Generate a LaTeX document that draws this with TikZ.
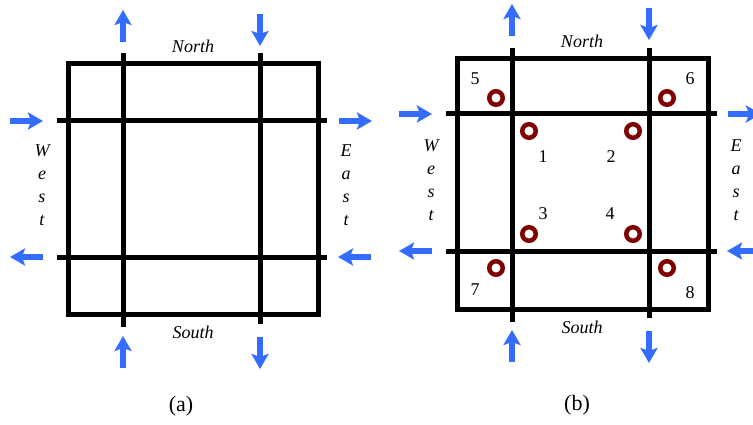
\documentclass[tikz,border=0pt]{standalone}
\usepackage{fontspec}
\setmainfont{Liberation Serif}
\usetikzlibrary{arrows.meta}
\definecolor{arrowblue}{RGB}{51,108,255}
\definecolor{ringred}{RGB}{128,0,0}
\tikzset{
  gridline/.style={line width=5pt, black},
  flow/.style={line width=5.5pt, arrowblue, -{Stealth[length=15pt,width=17pt,inset=3pt]}},
  ring/.style={circle, draw=ringred, line width=4.5pt, minimum size=13.5pt, inner sep=0pt, fill=white},
  lbl/.style={font=\fontsize{18}{20}\selectfont\itshape, inner sep=0pt},
  num/.style={font=\fontsize{18}{20}\selectfont, inner sep=0pt},
  captext/.style={font=\fontsize{22}{24}\selectfont, inner sep=0pt},
  vert/.style={font=\fontsize{18}{23}\selectfont\itshape, align=center, inner sep=0pt}
}
\begin{document}
\begin{tikzpicture}[x=1pt,y=-1pt]
\useasboundingbox (0,0) rectangle (753,425);
% ---------- panel (a) ----------
\begin{scope}
  \coordinate (a-tl) at (68,64);
  \coordinate (a-br) at (318,314);
  \draw[gridline] (a-tl) rectangle (a-br);
  \coordinate (a-v1t) at (123,53); \coordinate (a-v1b) at (123,327);
  \coordinate (a-v2t) at (260,53); \coordinate (a-v2b) at (260,324);
  \coordinate (a-h1l) at (57,121); \coordinate (a-h1r) at (327,121);
  \coordinate (a-h2l) at (57,257); \coordinate (a-h2r) at (327,257);
  \draw[gridline] (a-v1t) -- (a-v1b);
  \draw[gridline] (a-v2t) -- (a-v2b);
  \draw[gridline] (a-h1l) -- (a-h1r);
  \draw[gridline] (a-h2l) -- (a-h2r);
  % arrows
  \coordinate (a-n1s) at (123,42); \coordinate (a-n1e) at (123,10);
  \coordinate (a-n2s) at (260,14); \coordinate (a-n2e) at (260,46);
  \coordinate (a-s1s) at (123,368); \coordinate (a-s1e) at (123,336);
  \coordinate (a-s2s) at (260,337); \coordinate (a-s2e) at (260,369);
  \coordinate (a-w1s) at (10,121); \coordinate (a-w1e) at (43,121);
  \coordinate (a-w2s) at (43,257); \coordinate (a-w2e) at (10,257);
  \coordinate (a-e1s) at (339,121); \coordinate (a-e1e) at (372,121);
  \coordinate (a-e2s) at (371,257); \coordinate (a-e2e) at (338,257);
  \draw[flow] (a-n1s) -- (a-n1e);
  \draw[flow] (a-n2s) -- (a-n2e);
  \draw[flow] (a-s1s) -- (a-s1e);
  \draw[flow] (a-s2s) -- (a-s2e);
  \draw[flow] (a-w1s) -- (a-w1e);
  \draw[flow] (a-w2s) -- (a-w2e);
  \draw[flow] (a-e1s) -- (a-e1e);
  \draw[flow] (a-e2s) -- (a-e2e);
  \node[lbl] (a-north) at (193,46) {North};
  \node[lbl] (a-south) at (193,332) {South};
  \node[vert] (a-west) at (42,185) {W\\e\\s\\t};
  \node[vert] (a-east) at (346,185) {E\\a\\s\\t};
  \node[captext] (a-cap) at (181,406) {(a)};
\end{scope}
% ---------- panel (b) ----------
\begin{scope}
  \coordinate (b-tl) at (457,59);
  \coordinate (b-br) at (708,309);
  \draw[gridline] (b-tl) rectangle (b-br);
  \coordinate (b-v1t) at (512,48); \coordinate (b-v1b) at (512,322);
  \coordinate (b-v2t) at (649,48); \coordinate (b-v2b) at (649,318);
  \coordinate (b-h1l) at (446,114); \coordinate (b-h1r) at (717,114);
  \coordinate (b-h2l) at (446,251); \coordinate (b-h2r) at (717,251);
  \draw[gridline] (b-v1t) -- (b-v1b);
  \draw[gridline] (b-v2t) -- (b-v2b);
  \draw[gridline] (b-h1l) -- (b-h1r);
  \draw[gridline] (b-h2l) -- (b-h2r);
  % arrows
  \coordinate (b-n1s) at (512,36); \coordinate (b-n1e) at (512,4);
  \coordinate (b-n2s) at (649,8); \coordinate (b-n2e) at (649,40);
  \coordinate (b-s1s) at (512,362); \coordinate (b-s1e) at (512,330);
  \coordinate (b-s2s) at (649,331); \coordinate (b-s2e) at (649,363);
  \coordinate (b-w1s) at (399,114); \coordinate (b-w1e) at (432,114);
  \coordinate (b-w2s) at (432,251); \coordinate (b-w2e) at (399,251);
  \coordinate (b-e1s) at (728,114); \coordinate (b-e1e) at (761,114);
  \coordinate (b-e2s) at (760,251); \coordinate (b-e2e) at (727,251);
  \draw[flow] (b-n1s) -- (b-n1e);
  \draw[flow] (b-n2s) -- (b-n2e);
  \draw[flow] (b-s1s) -- (b-s1e);
  \draw[flow] (b-s2s) -- (b-s2e);
  \draw[flow] (b-w1s) -- (b-w1e);
  \draw[flow] (b-w2s) -- (b-w2e);
  \draw[flow] (b-e1s) -- (b-e1e);
  \draw[flow] (b-e2s) -- (b-e2e);
  \node[lbl] (b-north) at (582,41) {North};
  \node[lbl] (b-south) at (582,327) {South};
  \node[vert] (b-west) at (431,180) {W\\e\\s\\t};
  \node[vert] (b-east) at (736,180) {E\\a\\s\\t};
  \node[captext] (b-cap) at (577,405) {(b)};
  % rings
  \node[ring] (r5) at (496,98) {};
  \node[ring] (r6) at (667,98) {};
  \node[ring] (r1) at (529,131) {};
  \node[ring] (r2) at (633,131) {};
  \node[ring] (r3) at (529,234) {};
  \node[ring] (r4) at (633,234) {};
  \node[ring] (r7) at (496,268) {};
  \node[ring] (r8) at (667,268) {};
  % numbers
  \node[num] (n5) at (475,79) {5};
  \node[num] (n6) at (690,79) {6};
  \node[num] (n1) at (543,157) {1};
  \node[num] (n2) at (611,157) {2};
  \node[num] (n3) at (543,214) {3};
  \node[num] (n4) at (610,214) {4};
  \node[num] (n7) at (475,290) {7};
  \node[num] (n8) at (690,293) {8};
\end{scope}
\end{tikzpicture}
\end{document}
